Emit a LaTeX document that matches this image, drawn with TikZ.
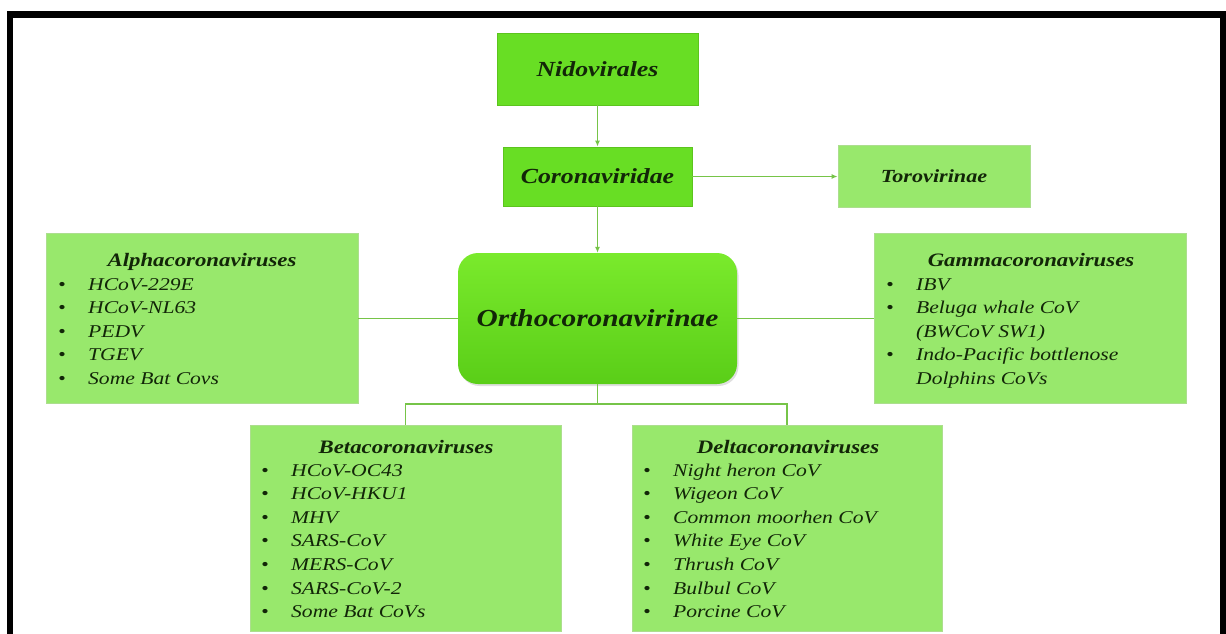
\documentclass[tikz,border=0pt]{standalone}
\usepackage{fontspec}
\setmainfont{Liberation Serif}[FakeStretch=1.2]
\usetikzlibrary{arrows.meta,shadows}

\definecolor{leafgreen}{RGB}{104,222,36}
\definecolor{leafedge}{RGB}{92,196,30}
\definecolor{palegreen}{RGB}{152,232,108}
\definecolor{paleedge}{RGB}{172,222,142}
\definecolor{orthotop}{RGB}{122,234,44}
\definecolor{orthobottom}{RGB}{90,206,24}
\definecolor{linkgreen}{RGB}{118,196,72}
\definecolor{inkgreen}{RGB}{18,38,8}

\newcommand{\itm}[1]{\makebox[30pt][l]{\textbullet}#1}
\newcommand{\cnt}[1]{\hspace*{30pt}#1}

\begin{document}
\begin{tikzpicture}
  [x=1pt, y=-1pt,
   every node/.style={text=inkgreen, inner sep=0pt},
   taxon/.style={draw=leafedge, fill=leafgreen, line width=0.8pt,
     font=\fontsize{21.5}{26}\selectfont\bfseries\itshape},
   group/.style={draw=paleedge, fill=palegreen, line width=0.8pt},
   head/.style={anchor=base, font=\fontsize{19}{23}\selectfont\bfseries\itshape},
   item/.style={anchor=base west, font=\fontsize{18}{23.5}\selectfont\itshape},
   link/.style={draw=linkgreen, line width=1.3pt},
   pointer/.style={link, -{Latex[length=6pt,width=5pt]}}]

  \useasboundingbox (0,0) rectangle (1226,634);
  % frame, open at the bottom
  \draw[line width=6.5pt] (10,645) -- (10,14.5) -- (1223,14.5) -- (1223,645);

  % order, family, subfamilies
  \node[taxon, minimum width=201pt, minimum height=72pt] (nido) at (597.5,69) {Nidovirales};
  \node[taxon, minimum width=189pt, minimum height=59pt] (corona) at (597.5,176.5) {Coronaviridae};
  \node[group, minimum width=192pt, minimum height=62pt,
        font=\fontsize{18.5}{22}\selectfont\bfseries\itshape] (toro) at (934,176.5) {Torovirinae};
  \node[rounded corners=20pt, top color=orthotop, bottom color=orthobottom,
        drop shadow={opacity=0.25, shadow xshift=1.5pt, shadow yshift=-2pt},
        minimum width=279pt, minimum height=131pt,
        font=\fontsize{24.5}{29}\selectfont\bfseries\itshape] (ortho) at (597.5,318.5) {Orthocoronavirinae};

  % genera
  \node[group, minimum width=312pt, minimum height=170pt] (alpha) at (202,318.5) {};
  \node[head] (alpha-head) at (202,266) {Alphacoronaviruses};
  \foreach \t [count=\i] in {HCoV-229E, HCoV-NL63, PEDV, TGEV, Some Bat Covs}
    \node[item] (alpha-\i) at (58,{290+23.6*(\i-1)}) {\itm{\t}};

  \node[group, minimum width=312pt, minimum height=170pt] (gamma) at (1030,318.5) {};
  \node[head] (gamma-head) at (1031,266) {Gammacoronaviruses};
  \foreach \t [count=\i] in {\itm{IBV}, \itm{Beluga whale CoV}, \cnt{(BWCoV SW1)},
                             \itm{Indo-Pacific bottlenose}, \cnt{Dolphins CoVs}}
    \node[item] (gamma-\i) at (886,{290+23.6*(\i-1)}) {\t};

  \node[group, minimum width=311pt, minimum height=206pt] (beta) at (405.5,528) {};
  \node[head] (beta-head) at (406,453.5) {Betacoronaviruses};
  \foreach \t [count=\i] in {HCoV-OC43, HCoV-HKU1, MHV, SARS-CoV, MERS-CoV, SARS-CoV-2, Some Bat CoVs}
    \node[item] (beta-\i) at (261,{476+23.6*(\i-1)}) {\itm{\t}};

  \node[group, minimum width=310pt, minimum height=206pt] (delta) at (787,528) {};
  \node[head] (delta-head) at (788,453.5) {Deltacoronaviruses};
  \foreach \t [count=\i] in {Night heron CoV, Wigeon CoV, Common moorhen CoV, White Eye CoV,
                             Thrush CoV, Bulbul CoV, Porcine CoV}
    \node[item] (delta-\i) at (643,{476+23.6*(\i-1)}) {\itm{\t}};

  % connectors
  \draw[pointer] (nido) -- (corona);
  \draw[pointer] (corona) -- (toro);
  \draw[pointer] (corona) -- (ortho);
  \draw[link] (alpha) -- (ortho);
  \draw[link] (ortho) -- (gamma);
  \coordinate (split) at (597.5,404);
  \draw[link] (ortho.south) -- (split);
  \draw[link] (beta.north) |- (split) -| (delta.north);
\end{tikzpicture}
\end{document}
